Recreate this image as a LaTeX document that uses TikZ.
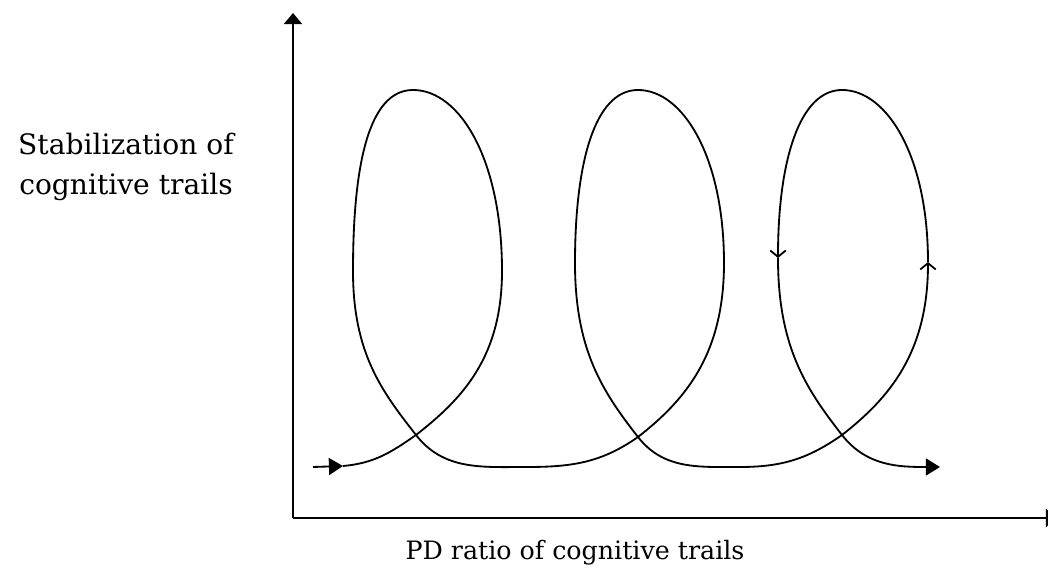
\documentclass[tikz,border=0pt]{standalone}
\usepackage{fontspec}
\setmainfont{DejaVu Serif}
\usetikzlibrary{arrows.meta}

\begin{document}
\begin{tikzpicture}[
  x=0.025cm, y=0.025cm,
  axis/.style={line width=1.4pt, -{Triangle[length=8pt,width=13pt]}},
  trail/.style={line width=1.3pt},
  tip/.style={-{Triangle[length=10pt,width=12pt]}},
  turn/.style={-{Straight Barb[length=4.5pt,width=11pt]}},
  up/.style={out=90,in=0,out looseness=1.4,in looseness=0.6},
  down/.style={out=180,in=90,out looseness=0.6,in looseness=1.4},
  lbl/.style={align=center, inner sep=0pt}
]
\useasboundingbox (0,0) rectangle (1048,571);
% axes
\coordinate (o) at (293,53);
\coordinate (ytop) at (293,558);
\coordinate (xend) at (1057,53);
\draw[axis] (o) -- (ytop);
\draw[axis] (o) -- (xend);
\node[lbl, font=\fontsize{20}{28.4}\selectfont] (ylab) at (126,404)
  {Stabilization of\\cognitive trails};
\node[lbl, font=\fontsize{18}{24}\selectfont] (xlab) at (575,18)
  {PD ratio of cognitive trails};
% points of the trail
\coordinate (s) at (313,104);
\coordinate (a) at (343,105);
\coordinate (c1) at (416,136);
\coordinate (r1) at (502,300);
\coordinate (t1) at (413,481);
\coordinate (l1) at (353,300);
\coordinate (b1) at (527,104);
\coordinate (c2) at (638,134);
\coordinate (r2) at (724,308);
\coordinate (t2) at (638,481);
\coordinate (l2) at (575,308);
\coordinate (b2) at (740,104);
\coordinate (c3) at (842,136);
\coordinate (r3) at (928,309);
\coordinate (t3) at (842,481);
\coordinate (l3) at (778,313);
\coordinate (e) at (940,104);
% the trail
\draw[trail, tip] (s) -- (a);
\draw[trail] (a) to[out=5,in=215] (c1)
  to[out=38,in=270,out looseness=0.8,in looseness=1.2] (r1)
  to[up] (t1) to[down] (l1)
  to[out=270,in=128,out looseness=1.2,in looseness=0.8] (c1)
  to[out=-52,in=180] (b1) to[out=0,in=215] (c2)
  to[out=38,in=270,out looseness=0.8,in looseness=1.2] (r2)
  to[up] (t2) to[down] (l2)
  to[out=270,in=128,out looseness=1.2,in looseness=0.8] (c2)
  to[out=-52,in=180] (b2) to[out=0,in=215] (c3);
\draw[trail, turn] (c3) to[out=38,in=270,out looseness=0.8,in looseness=1.2] (r3);
\draw[trail, turn] (r3) to[up] (t3) to[down] (l3);
\draw[trail, tip] (l3) to[out=270,in=128,out looseness=1.2,in looseness=0.8] (c3)
  to[out=-52,in=180] (e);
\end{tikzpicture}
\end{document}
